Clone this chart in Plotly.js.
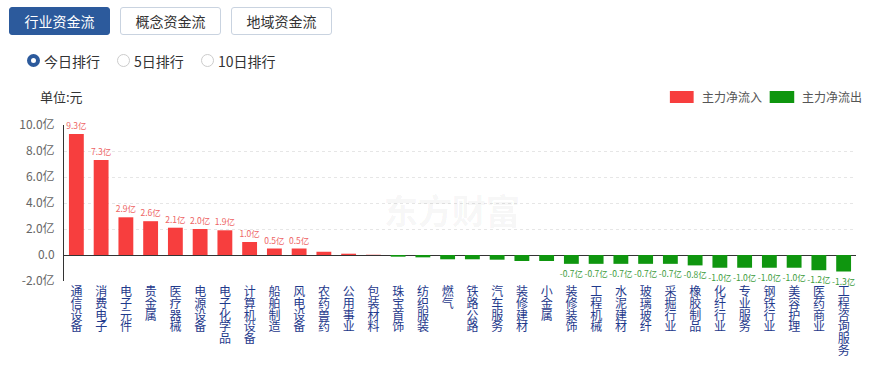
<!DOCTYPE html>
<html><head><meta charset="utf-8">
<script src="https://cdn.plot.ly/plotly-3.0.1.min.js"></script>
<style>
html,body{margin:0;padding:0;background:#fff;width:874px;height:367px;overflow:hidden;font-family:"Noto Sans CJK SC","Noto Sans",sans-serif;}
#chart{position:absolute;left:0;top:0;width:874px;height:367px;}
.btn{position:absolute;top:7px;height:28px;width:101px;box-sizing:border-box;border:1px solid #c9d3e0;border-radius:3px;background:#fff;color:#333;font-size:14px;line-height:26px;text-align:center;z-index:2;}
.btn.on{background:#2c5a9c;border-color:#2c5a9c;color:#fff;}
.radio{position:absolute;top:53px;height:16px;font-size:14px;line-height:16px;color:#333;z-index:2;}
.radio i{position:absolute;left:0;top:1px;width:13px;height:13px;box-sizing:border-box;border:1px solid #ccc;border-radius:50%;background:#fff;}
.radio.on i{border:4px solid #2c5a9c;}
.radio span{position:absolute;left:17px;top:0;white-space:nowrap;}
</style></head>
<body>
<div class="btn on" style="left:9px">行业资金流</div>
<div class="btn" style="left:120px">概念资金流</div>
<div class="btn" style="left:231px">地域资金流</div>
<div class="radio on" style="left:27px"><i></i><span>今日排行</span></div>
<div class="radio" style="left:117px"><i></i><span>5日排行</span></div>
<div class="radio" style="left:201px"><i></i><span>10日排行</span></div>
<div id="chart"></div>
<script>
const categories = ["通信设备","消费电子","电子元件","贵金属","医疗器械","电源设备","电子化学品","计算机设备","船舶制造","风电设备","农药兽药","公用事业","包装材料","珠宝首饰","纺织服装","燃气","铁路公路","汽车服务","装修建材","小金属","装修装饰","工程机械","水泥建材","玻璃玻纤","采掘行业","橡胶制品","化纤行业","专业服务","钢铁行业","美容护理","医药商业","工程咨询服务"];
const values = [9.3,7.3,2.9,2.6,2.1,2.0,1.9,1.0,0.5,0.5,0.25,0.1,0.02,-0.13,-0.18,-0.33,-0.33,-0.36,-0.46,-0.46,-0.68,-0.68,-0.68,-0.68,-0.68,-0.8,-0.98,-0.98,-0.98,-0.98,-1.17,-1.27];
const valueLabels = ["9.3亿","7.3亿","2.9亿","2.6亿","2.1亿","2.0亿","1.9亿","1.0亿","0.5亿","0.5亿","","","","","","","","","","","-0.7亿","-0.7亿","-0.7亿","-0.7亿","-0.7亿","-0.8亿","-1.0亿","-1.0亿","-1.0亿","-1.0亿","-1.2亿","-1.3亿"];
const yTickVals = [-2,0,2,4,6,8,10];
const yTickText = ["-2.0亿","0.0","2.0亿","4.0亿","6.0亿","8.0亿","10.0亿"];
const legendNames = ["主力净流入","主力净流出"];
const unitLabel = "单位:元";
const watermark = "东方财富";

const RED = "#f73e3e", GREEN = "#0f960f";
const FONT = '"Noto Sans CJK SC","Noto Sans",sans-serif';

const trace = {
  type: "bar",
  x: categories,
  y: values,
  width: 0.6,
  marker: {color: values.map(v => v >= 0 ? RED : GREEN)},
  text: valueLabels,
  textposition: "outside",
  constraintext: "none",
  cliponaxis: false,
  textfont: {size: 8.5, family: FONT, color: values.map(v => v >= 0 ? "#ee6464" : "#3c9c3c")},
  hoverinfo: "x+y",
  showlegend: false
};

const layout = {
  width: 874, height: 367,
  margin: {l: 64, r: 18, t: 125, b: 86, pad: 0},
  paper_bgcolor: "#fff", plot_bgcolor: "#fff",
  font: {family: FONT, size: 12, color: "#333"},
  bargap: 0.4,
  xaxis: {
    type: "category",
    tickmode: "array",
    tickvals: categories,
    ticktext: categories.map(c => Array.from(c).join("<br>")),
    tickfont: {size: 12, color: "#1f3a8c", family: FONT},
    tickangle: 0,
    ticks: "", ticklabelstandoff: 2,
    showgrid: false, showline: false, zeroline: false,
    fixedrange: true, automargin: false
  },
  yaxis: {
    range: [-2, 10],
    tickmode: "array",
    tickvals: yTickVals,
    ticktext: yTickText,
    tickfont: {size: 12, color: "#666", family: FONT},
    showgrid: true, gridcolor: "#e6e6e6", griddash: "dot", gridwidth: 1,
    zeroline: true, zerolinecolor: "#333", zerolinewidth: 1,
    showline: true, linecolor: "#333", linewidth: 1,
    ticks: "", ticklabelstandoff: 6,
    fixedrange: true, automargin: false
  },
  shapes: [
    {type: "rect", xref: "paper", yref: "paper", x0: 0.765, x1: 0.795, y0: 1.141, y1: 1.218, fillcolor: RED, line: {width: 0}},
    {type: "rect", xref: "paper", yref: "paper", x0: 0.891, x1: 0.922, y0: 1.141, y1: 1.218, fillcolor: GREEN, line: {width: 0}}
  ],
  annotations: [
    {xref: "paper", yref: "paper", x: -0.033, y: 1.18, xanchor: "left", yanchor: "middle", text: unitLabel, showarrow: false, font: {size: 13, color: "#333", family: FONT}},
    {xref: "paper", yref: "paper", x: 0.803, y: 1.18, xanchor: "left", yanchor: "middle", text: legendNames[0], showarrow: false, font: {size: 12, color: "#555", family: FONT}},
    {xref: "paper", yref: "paper", x: 0.929, y: 1.18, xanchor: "left", yanchor: "middle", text: legendNames[1], showarrow: false, font: {size: 12, color: "#555", family: FONT}},
    {xref: "paper", yref: "paper", x: 0.49, y: 0.46, xanchor: "center", yanchor: "middle", text: "<b>" + watermark + "</b>", showarrow: false, font: {size: 34, color: "rgba(0,0,0,0.055)", family: FONT}}
  ]
};

Plotly.newPlot("chart", [trace], layout, {displayModeBar: false, staticPlot: true}).then(function () {
  document.querySelectorAll(".xtick text").forEach(function (t) {
    t.querySelectorAll("tspan.line").forEach(function (s, i) {
      s.setAttribute("dy", (i * 0.98) + "em");
    });
  });
});
</script>
</body></html>
